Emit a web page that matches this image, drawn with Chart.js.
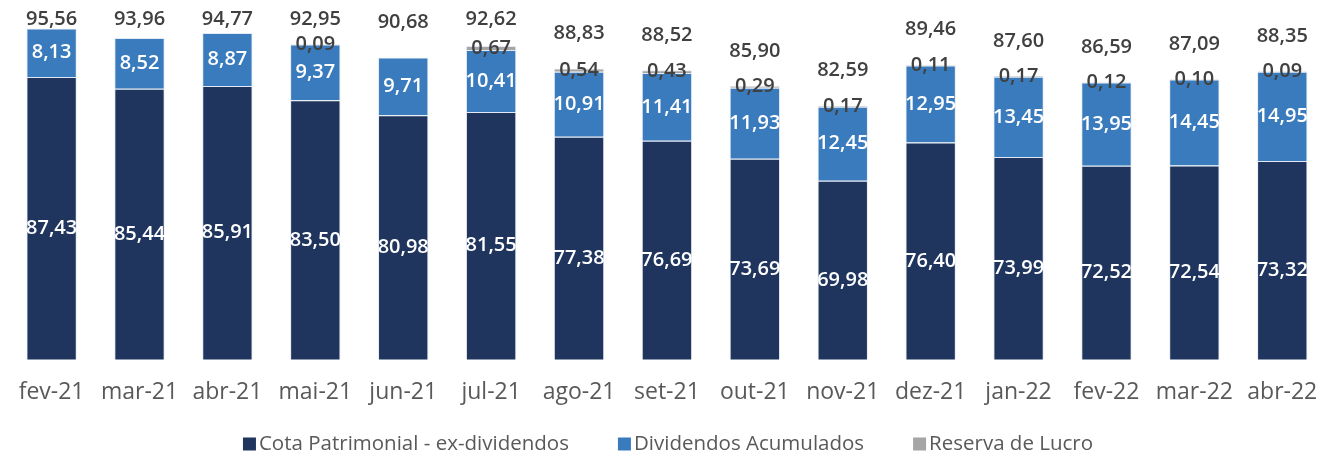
<!DOCTYPE html>
<html>
<head>
<meta charset="utf-8">
<script src="https://cdn.jsdelivr.net/npm/chart.js@4.4.0/dist/chart.umd.min.js"></script>
<style>
  html, body { margin: 0; padding: 0; background: #fff; }
  #wrap { width: 1336px; height: 456px; position: relative; }
</style>
</head>
<body>
<div id="wrap"><canvas id="chart"></canvas></div>
<script>
const meses = ['fev-21', 'mar-21', 'abr-21', 'mai-21', 'jun-21', 'jul-21', 'ago-21', 'set-21',
  'out-21', 'nov-21', 'dez-21', 'jan-22', 'fev-22', 'mar-22', 'abr-22'];
const cota = [87.43, 85.44, 85.91, 83.50, 80.98, 81.55, 77.38, 76.69, 73.69, 69.98, 76.40, 73.99, 72.52, 72.54, 73.32];
const dividendos = [8.13, 8.52, 8.87, 9.37, 9.71, 10.41, 10.91, 11.41, 11.93, 12.45, 12.95, 13.45, 13.95, 14.45, 14.95];
const reserva = [0, 0, 0, 0.09, 0, 0.67, 0.54, 0.43, 0.29, 0.17, 0.11, 0.17, 0.12, 0.10, 0.09];
const totais = [95.56, 93.96, 94.77, 92.95, 90.68, 92.62, 88.83, 88.52, 85.90, 82.59, 89.46, 87.60, 86.59, 87.09, 88.35];

const fonte = '"Open Sans", "Noto Sans", sans-serif';
const fmt = v => v.toFixed(2).replace('.', ',');

// rotulos dentro das barras e totais acima
const rotulos = {
  id: 'rotulos',
  afterDatasetsDraw(chart) {
    const ctx = chart.ctx;
    const y = chart.scales.y;
    const area = chart.chartArea;
    ctx.save();
    ctx.font = '600 20px ' + fonte;
    ctx.textAlign = 'center';
    ctx.textBaseline = 'middle';
    chart.data.datasets.forEach((ds, di) => {
      const meta = chart.getDatasetMeta(di);
      meta.data.forEach((bar, i) => {
        const v = ds.data[i];
        if (!v) return;
        let cy = (bar.y + Math.min(bar.base, area.bottom)) / 2;
        if (di === 0) cy += 10;
        ctx.fillStyle = di === 2 ? '#404040' : '#ffffff';
        ctx.fillText(fmt(v), bar.x, cy);
      });
    });
    const m = chart.getDatasetMeta(0);
    ctx.fillStyle = '#404040';
    totais.forEach((t, i) => {
      const cy = Math.max(19, y.getPixelForValue(t) - 35);
      ctx.fillText(fmt(t), m.data[i].x, cy);
    });
    ctx.restore();
  }
};

// legenda desenhada no rodape
const legenda = {
  id: 'legenda',
  afterDraw(chart) {
    const ctx = chart.ctx;
    ctx.save();
    ctx.font = '20.5px ' + fonte;
    ctx.textBaseline = 'middle';
    const itens = chart.data.datasets.map(ds => ({ txt: ds.label, cor: ds.backgroundColor, w: ctx.measureText(ds.label).width }));
    const caixa = 13, gap = 3, espaco = 49;
    const total = itens.reduce((s, it) => s + caixa + gap + it.w, 0) + espaco * (itens.length - 1);
    let x = (chart.width - total) / 2;
    const cy = chart.height - 12;
    itens.forEach(it => {
      ctx.fillStyle = it.cor;
      ctx.fillRect(x, cy - 6.5, caixa, caixa);
      x += caixa + gap;
      ctx.fillStyle = '#595959';
      ctx.fillText(it.txt, x, cy);
      x += it.w + espaco;
    });
    ctx.restore();
  }
};

const ctx = document.getElementById('chart').getContext('2d');
new Chart(ctx, {
  type: 'bar',
  data: {
    labels: meses,
    datasets: [
      { label: 'Cota Patrimonial - ex-dividendos', data: cota, backgroundColor: '#1F355E' },
      { label: 'Dividendos Acumulados', data: dividendos, backgroundColor: '#397BBC' },
      { label: 'Reserva de Lucro', data: reserva, backgroundColor: '#A5A5A5' }
    ]
  },
  options: {
    responsive: true,
    maintainAspectRatio: false,
    animation: false,
    layout: { padding: { top: 2, left: 0, right: 0, bottom: 31 } },
    datasets: {
      bar: {
        barPercentage: 0.573,
        categoryPercentage: 1,
        borderWidth: 1,
        borderColor: 'rgba(225,232,244,0.9)'
      }
    },
    scales: {
      x: {
        stacked: true,
        grid: { display: false, drawTicks: false },
        border: { display: false },
        ticks: { color: '#595959', font: { family: fonte, size: 23 }, padding: 19, maxRotation: 0, autoSkip: false }
      },
      y: {
        stacked: true,
        display: false,
        min: 40,
        max: 100
      }
    },
    plugins: {
      legend: { display: false },
      tooltip: { enabled: false }
    }
  },
  plugins: [rotulos, legenda]
});
</script>
</body>
</html>
